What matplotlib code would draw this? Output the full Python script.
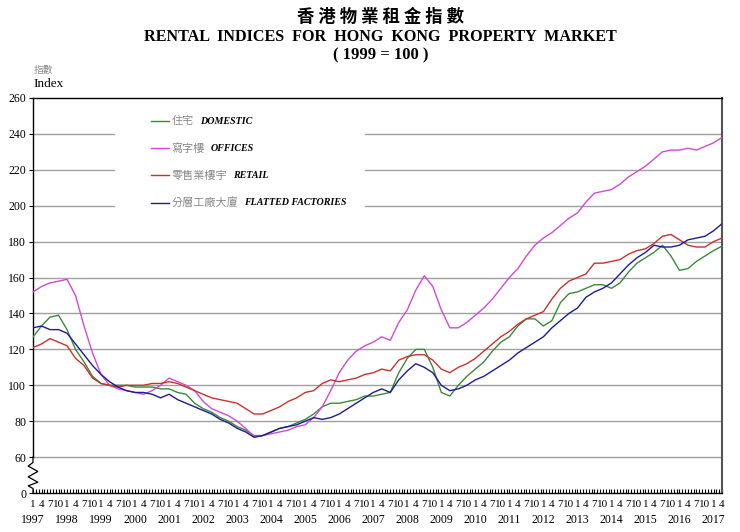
import numpy as np
import matplotlib.pyplot as plt
from matplotlib.patches import Rectangle
from matplotlib.font_manager import FontProperties

# quarterly readings (Jan, Apr, Jul, Oct), Jan 1997 .. Apr 2017
years = list(range(1997, 2018))
quarter_labels = ['1', '4', '7', '10']

domestic = [127, 133, 138, 139, 131, 120, 113, 105, 101, 100, 100, 100,
            99, 99, 99, 98, 98, 96, 95, 90, 87, 85, 82, 80,
            77, 75, 72, 72, 74, 76, 77, 79, 81, 84, 88, 90,
            90, 91, 92, 94, 94, 95, 96, 107, 115, 120, 120, 110,
            96, 94, 100, 105, 109, 113, 119, 124, 127, 133, 137, 137,
            133, 136, 146, 151, 152, 154, 156, 156, 154, 157, 163, 168,
            171, 174, 178, 172, 164, 165, 169, 172, 175, 177.5]
offices = [152, 155, 157, 158, 159, 150, 133, 118, 106, 100, 98, 97,
           96, 95, 97, 100, 104, 102, 100, 97, 91, 87, 85, 83,
           80, 76, 71.5, 72, 73, 74, 75, 77, 78, 82, 88, 97,
           107, 114, 119, 122, 124, 127, 125, 135, 142, 153, 161, 155,
           142, 132, 132, 135, 139, 143, 148, 154, 160, 165, 172, 178,
           182, 185, 189, 193, 196, 202, 207, 208, 209, 212, 216, 219,
           222, 226, 230, 231, 231, 232, 231, 233, 235, 238]
retail = [121, 123, 126, 124, 122, 115, 111, 104, 101, 100, 99, 100,
          100, 100, 101, 101, 102, 101, 99, 97, 95, 93, 92, 91,
          90, 87, 84, 84, 86, 88, 91, 93, 96, 97, 101, 103,
          102, 103, 104, 106, 107, 109, 108, 114, 116, 117, 117, 114,
          109, 107, 110, 112, 115, 119, 123, 127, 130, 134, 137, 139,
          141, 148, 154, 158, 160, 162, 168, 168, 169, 170, 173, 175,
          176, 179, 183, 184, 181, 178, 177, 177, 180, 182]
factories = [132, 133, 131, 131, 129, 123, 117, 111, 106, 102, 99, 97,
             96, 96, 95, 93, 95, 92, 90, 88, 86, 84, 81, 79,
             76, 74, 71, 72, 74, 76, 77, 78, 80, 82, 81, 82,
             84, 87, 90, 93, 96, 98, 96, 103, 108, 112, 110, 107,
             100, 97, 98, 100, 103, 105, 108, 111, 114, 118, 121, 124,
             127, 132, 136, 140, 143, 149, 152, 154, 157, 162, 167, 171,
             174, 178, 177, 177, 178, 181, 182, 183, 186, 190]

names_zh = ['住宅', '寫字樓', '零售業樓宇', '分層工廠大廈']
names_en = ['DOMESTIC', 'OFFICES', 'RETAIL', 'FLATTED FACTORIES']
colors = ['#3a8a3a', '#d24ad2', '#c8322d', '#1c1c94']
series = [domestic, offices, retail, factories]

months = np.arange(len(domestic)) * 3  # months since Jan 1997
last_month = months[-1]

serif = 'Liberation Serif'
cjk = 'Noto Sans CJK TC'

fig = plt.figure(figsize=(7.4, 5.32), dpi=100)
ax = fig.add_axes([0.0446, 0.0733, 0.9311, 0.7425])

# broken y axis: 0 sits where 40 would be
ax.set_ylim(40, 260)
ax.set_xlim(0, last_month)
yt = list(range(40, 261, 20))
ax.set_yticks(yt)
ax.set_yticklabels(['0'] + [str(v) for v in yt[1:]], fontfamily=serif, fontsize=8.5)

for v in yt[1:-1]:
    ax.axhline(v, color='#a0a0a0', lw=1, zorder=1)

# blank area behind the legend
ax.add_patch(Rectangle((0.119, 0.69), 0.363, 0.275, transform=ax.transAxes,
                       facecolor='white', edgecolor='none', zorder=1.5))

handles = []
for vals, c in zip(series, colors):
    h, = ax.plot(months, vals, color=c, lw=1.0, zorder=3)
    handles.append(h)

# x ticks: quarter months labelled, every month ticked
ax.set_xticks(months)
ax.set_xticklabels([quarter_labels[i % 4] for i in range(len(months))],
                   fontfamily=serif, fontsize=8)
ax.set_xticks(np.arange(0, last_month + 1), minor=True)
ax.tick_params(axis='x', which='both', direction='in', length=3, width=0.8, pad=5)
ax.tick_params(axis='y', direction='out', length=3, width=0.8, pad=2)
for i, yr in enumerate(years):
    ax.text(12 * i, -0.068, str(yr), transform=ax.get_xaxis_transform(),
            ha='center', va='center', fontfamily=serif, fontsize=8.5)

ax.spines['left'].set_bounds(60, 260)
ax.spines['right'].set_color('#555555')
ax.spines['right'].set_linewidth(1.5)
for s in ['left', 'bottom', 'top']:
    ax.spines[s].set_linewidth(1.0)

# zigzag break on the y axis
zx = [0, 0, -0.007, 0.007, -0.007, 0.007, -0.007, 0, 0]
zy = [60, 57, 55, 52, 49, 46, 44, 42.5, 40]
ax.plot(zx, zy, transform=ax.get_yaxis_transform(), color='black', lw=0.9,
        clip_on=False, zorder=4)

leg = ax.legend(handles, names_zh, loc='upper left', bbox_to_anchor=(0.163, 0.968),
                frameon=False, borderpad=0, handlelength=1.6, handletextpad=0.25,
                labelspacing=1.5, prop=FontProperties(family=cjk, size=8))
for t in leg.get_texts():
    t.set_color('#8a8a8a')

fig.canvas.draw()
inv = ax.transAxes.inverted()
for t, en in zip(leg.get_texts(), names_en):
    bb = t.get_window_extent()
    x1, yc = inv.transform((bb.x1 + 6, (bb.y0 + bb.y1) / 2))
    ax.text(x1, yc, en, transform=ax.transAxes, ha='left', va='center',
            fontfamily=serif, fontweight='bold', fontstyle='italic', fontsize=7.2)

fig.text(0.514, 0.968, '香 港 物 業 租 金 指 數', ha='center', va='center',
         fontfamily=cjk, fontweight='bold', fontsize=12.5)
fig.text(0.514, 0.930, 'RENTAL  INDICES  FOR  HONG  KONG  PROPERTY  MARKET',
         ha='center', va='center', fontfamily=serif, fontweight='bold', fontsize=11.6)
fig.text(0.514, 0.895, '( 1999 = 100 )', ha='center', va='center',
         fontfamily=serif, fontweight='bold', fontsize=12)
fig.text(0.045, 0.868, '指數', ha='left', va='center', fontfamily=cjk,
         fontsize=7, color='#888888')
fig.text(0.045, 0.842, 'Index', ha='left', va='center', fontfamily=serif, fontsize=9.5)

fig.savefig('out.png', dpi=100)
